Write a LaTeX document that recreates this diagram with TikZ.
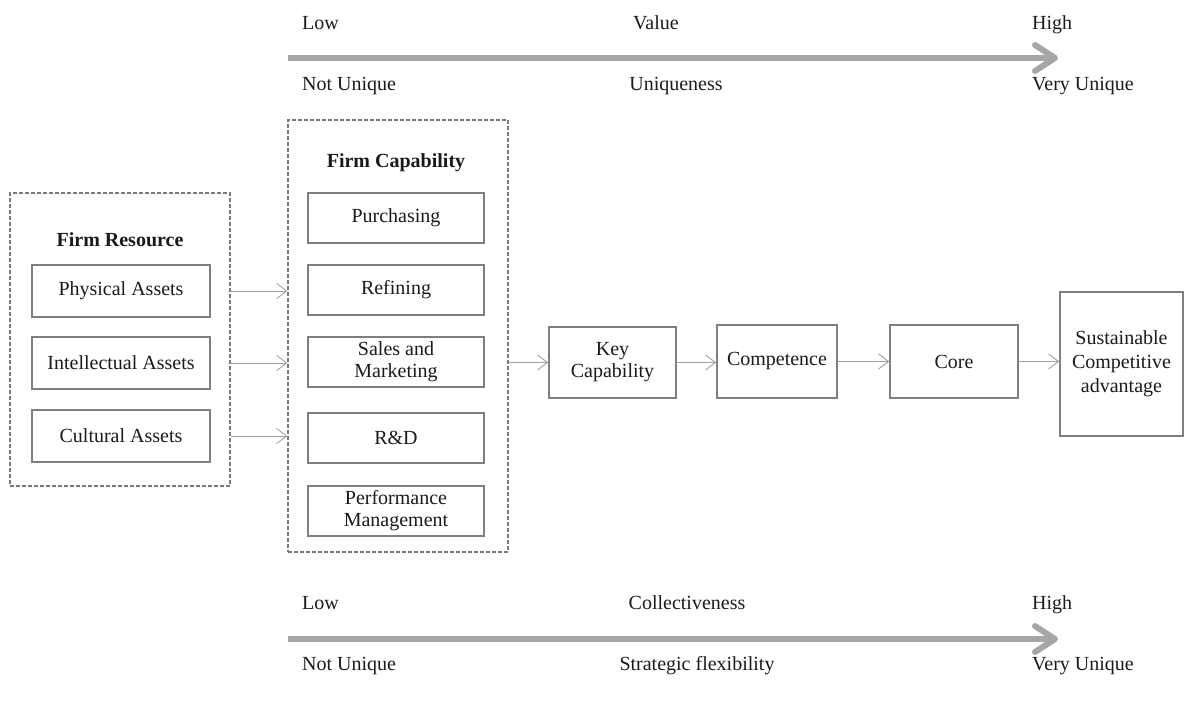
\documentclass[tikz,border=0pt]{standalone}
\usepackage{fontspec}
\setmainfont{Liberation Serif}
\usetikzlibrary{arrows.meta}
\definecolor{boxgray}{HTML}{7F7F7F}
\definecolor{dashgray}{HTML}{7A7A7A}
\definecolor{conngray}{HTML}{A0A0A0}
\definecolor{bigarrow}{HTML}{A6A6A6}
\definecolor{txt}{HTML}{1A1A1A}
\tikzset{
  every node/.style={text=txt, font=\fontsize{20}{22}\selectfont, inner sep=0pt},
  box/.style={draw=boxgray, line width=1.4pt, align=center, minimum width=#1},
  box/.default=176pt,
  group/.style={draw=dashgray, line width=1.1pt, dash pattern=on 4pt off 2pt},
  conn/.style={draw=conngray, line width=0.9pt, -{Straight Barb[length=10pt,width=15pt]}},
  scalearrow/.style={draw=bigarrow, line width=6pt, -{Straight Barb[length=20pt,width=26pt, line join=round, line cap=round]}},
  lbl/.style={anchor=base west},
  ctr/.style={anchor=base}
}
\begin{document}
\begin{tikzpicture}[x=1pt,y=-1pt]
\useasboundingbox (0,0) rectangle (1184,704);

% top scale
\coordinate (ta) at (288,58);
\coordinate (tb) at (1058,58);
\draw[scalearrow] (ta) -- (tb);
\node[lbl] (tlow) at (302,30) {Low};
\node[ctr] (tval) at (656,29) {Value};
\node[lbl] (thigh) at (1032,30) {High};
\node[lbl] (tnu) at (302,90) {Not Unique};
\node[ctr] (tuniq) at (676,90) {Uniqueness};
\node[lbl] (tvu) at (1032,90) {Very Unique};

% bottom scale
\coordinate (ba) at (288,639);
\coordinate (bb) at (1058,639);
\draw[scalearrow] (ba) -- (bb);
\node[lbl] (blow) at (302,609) {Low};
\node[ctr] (bcol) at (687,609) {Collectiveness};
\node[lbl] (bhigh) at (1032,609) {High};
\node[lbl] (bnu) at (302,670) {Not Unique};
\node[ctr] (bsf) at (697,670) {Strategic flexibility};
\node[lbl] (bvu) at (1032,670) {Very Unique};

% firm resource group
\node[group, minimum width=220pt, minimum height=293pt] (fr) at (120,339.5) {};
\node[font=\fontsize{20}{22}\selectfont\bfseries] (frt) at (120,240) {Firm Resource};
\node[box=178pt, minimum height=52pt] (phys) at (121,291) {Physical Assets};
\node[box=178pt, minimum height=52pt] (intel) at (121,363) {Intellectual Assets};
\node[box=178pt, minimum height=52pt] (cult) at (121,436) {Cultural Assets};

% firm capability group
\node[group, minimum width=220pt, minimum height=432pt] (fc) at (398,336) {};
\node[font=\fontsize{20}{22}\selectfont\bfseries] (fct) at (396,163) {Firm Capability};
\node[box, minimum height=50pt] (purch) at (396,218) {Purchasing};
\node[box, minimum height=50pt] (refin) at (396,290) {Refining};
\node[box, minimum height=50pt] (sales) at (396,362) {Sales and\\Marketing};
\node[box, minimum height=50pt] (rd) at (396,438) {R\&D};
\node[box, minimum height=50pt] (perf) at (396,511) {Performance\\Management};

% chain
\node[box=127pt, minimum height=71pt] (key) at (612.5,362.5) {Key\\Capability};
\node[box=120pt, minimum height=73pt] (comp) at (777,361.5) {Competence};
\node[box=128pt, minimum height=73pt] (core) at (954,361.5) {Core};
\node[box=123pt, minimum height=144pt, font=\fontsize{20}{24}\selectfont] (sca) at (1121.5,364) {Sustainable\\Competitive\\advantage};

% connectors
\draw[conn] (fr.east |- phys) -- (fc.west |- phys);
\draw[conn] (fr.east |- intel) -- (fc.west |- intel);
\draw[conn] (fr.east |- cult) -- (fc.west |- cult);
\draw[conn] (fc.east |- key) -- (key.west);
\draw[conn] (key) -- (comp.west |- key);
\draw[conn] (comp) -- (core);
\draw[conn] (core) -- (sca.west |- core);
\end{tikzpicture}
\end{document}
